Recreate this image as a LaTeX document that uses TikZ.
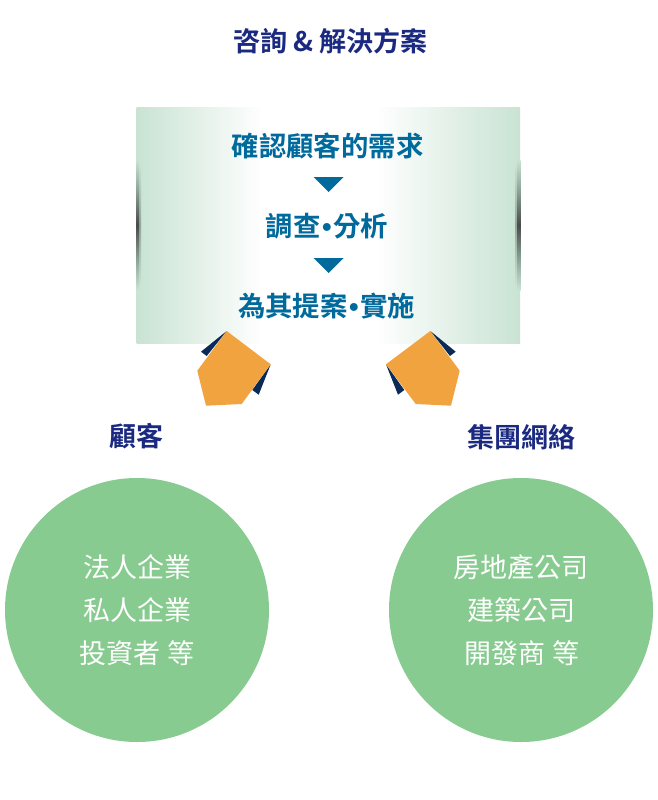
\documentclass[tikz,border=0pt]{standalone}
\usepackage{fontspec}
\setmainfont{Noto Sans CJK TC}
\newfontfamily\boldcjk{Noto Sans CJK TC Bold}
\newfontfamily\dotfont{Liberation Sans Bold}
\definecolor{navytext}{HTML}{1B2A80}
\definecolor{tealtext}{HTML}{006A9C}
\definecolor{boxgreen}{HTML}{C9E3D3}
\definecolor{circlegreen}{HTML}{88CB90}
\definecolor{orangep}{HTML}{F1A33F}
\definecolor{darkp}{HTML}{0A2A57}
\definecolor{shadowgray}{HTML}{4A4A4A}
\definecolor{shadowlight}{HTML}{8FA89A}
\pgfdeclarehorizontalshading{boxshade}{100bp}{
  color(0bp)=(boxgreen);
  color(25bp)=(boxgreen);
  color(41.5bp)=(white);
  color(56.1bp)=(white);
  color(75bp)=(boxgreen);
  color(100bp)=(boxgreen)}
\pgfdeclareverticalshading{edgeshade}{100bp}{
  color(0bp)=(boxgreen);
  color(25bp)=(boxgreen);
  color(36bp)=(shadowlight);
  color(50bp)=(shadowgray);
  color(64bp)=(shadowlight);
  color(75bp)=(boxgreen);
  color(100bp)=(boxgreen)}
\pgfdeclareverticalshading{edgeshadelight}{100bp}{
  color(0bp)=(boxgreen);
  color(25bp)=(boxgreen);
  color(50bp)=(shadowlight);
  color(75bp)=(boxgreen);
  color(100bp)=(boxgreen)}
\newcommand{\nbdot}{\kern1.5pt{\dotfont •}\kern1.5pt}
\tikzset{
  x=1pt,y=-1pt,
  heading/.style={font=\boldcjk\fontsize{27}{32}\selectfont,text=navytext,inner sep=0pt},
  steptext/.style={font=\boldcjk\fontsize{27.4}{32}\selectfont,text=tealtext,inner sep=0pt},
  circletext/.style={font=\fontsize{27}{32}\selectfont,text=white,inner sep=0pt},
  bigcircle/.style={circle,fill=circlegreen,minimum size=264pt,inner sep=0pt},
  pent/.style={fill=orangep},
  flap/.style={fill=darkp},
  tri/.style={fill=tealtext},
}
\begin{document}
\begin{tikzpicture}
\useasboundingbox (0,0) rectangle (658,800);
\node[heading] (title) at (330.5,41) {咨詢 \& 解決方案};
\shade[shading=boxshade,shading angle=0] (136.5,107) rectangle (520,343);
\shade[shading=edgeshadelight] (139,165) rectangle (141,285);
\shade[shading=edgeshade] (136.5,160) rectangle (139,290);
\shade[shading=edgeshadelight] (515.5,165) rectangle (517.5,285);
\shade[shading=edgeshade] (517.5,160) rectangle (520.5,290);
\node[steptext] (s1) at (327.5,146) {確認顧客的需求};
\node[steptext] (s2) at (327,226.5) {調查\nbdot 分析};
\node[steptext] (s3) at (326.5,306.5) {為其提案\nbdot 實施};
\fill[tri] (313.5,177) -- (343.5,177) -- (328.5,192) -- cycle;
\fill[tri] (313.5,258) -- (343.5,258) -- (328.5,273) -- cycle;
\fill[flap] (226.7,331) -- (201,351.7) -- (206.7,356) -- cycle;
\fill[flap] (270.7,364.3) -- (258.7,394.7) -- (252.3,390) -- cycle;
\fill[pent] (226.7,331) -- (270.7,364.3) -- (241.7,404) -- (206,405.7) -- (197.3,370.7) -- cycle;
\fill[flap] (430.3,331) -- (455.7,351.7) -- (450,356) -- cycle;
\fill[flap] (386,364.3) -- (398,394.7) -- (404.3,390) -- cycle;
\fill[pent] (430.3,331) -- (386,364.3) -- (415.7,404) -- (451,405.7) -- (459.7,370.7) -- cycle;
\node[heading] (customer) at (136,436) {顧客};
\node[heading] (group) at (521.5,437) {集團網絡};
\node[bigcircle] (c1) at (137,610) {};
\node[bigcircle] (c2) at (521,610) {};
\node[circletext] (a1) at (137,567) {法人企業};
\node[circletext] (a2) at (137,610) {私人企業};
\node[circletext] (a3) at (137,653) {投資者 等};
\node[circletext] (b1) at (521,567) {房地產公司};
\node[circletext] (b2) at (521,610) {建築公司};
\node[circletext] (b3) at (522,653) {開發商 等};
\end{tikzpicture}
\end{document}
